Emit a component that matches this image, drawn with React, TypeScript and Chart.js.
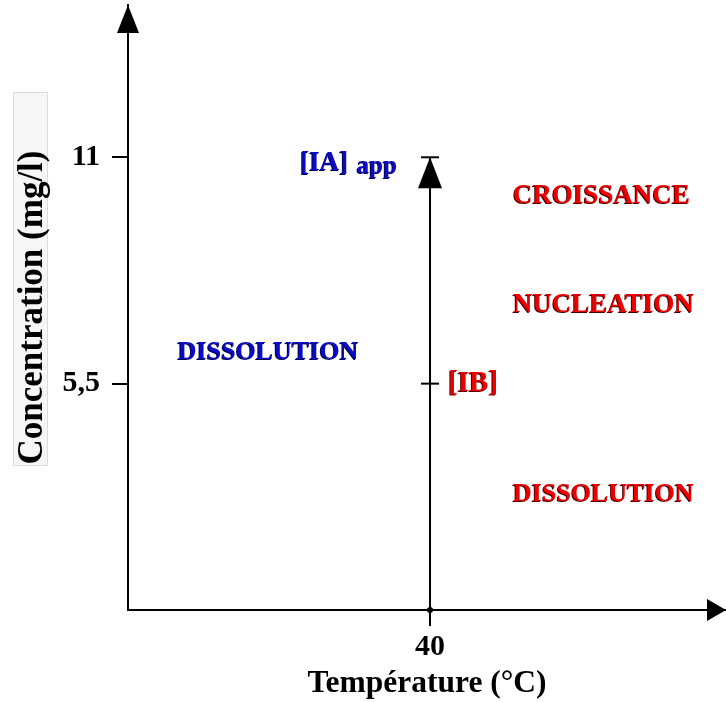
import React, { useEffect, useRef } from "react";
import { Chart, registerables } from "chart.js";

Chart.register(...registerables);

// ---- data ----
const xTickValues = [40];
const xTickLabels = ["40"];
const yTickValues = [5.5, 11];
const yTickLabels = ["5,5", "11"];
const xRange = [0, 79.2];
const yRange = [0, 14.7];
const xTitle = "Température (°C)";
const yTitle = "Concentration (mg/l)";

// vertical arrow at 40 °C from 0 up to [IA]app = 11
const arrowTemp = [40, 40];
const arrowConc = [0, 11];
// small marks on the arrow at [IA]app and [IB]
const markTemp = [40, 40];
const markConc = [11, 5.5];

// text annotations (anchor in data units: temperature, concentration)
const labelTexts = ["DISSOLUTION", "CROISSANCE", "NUCLEATION", "DISSOLUTION", "[IA]", "app", "[IB]"];
const labelTemps = [6.6, 51, 51, 51, 22.8, 30.3, 42.4];
const labelConcs = [6.27, 10.05, 7.41, 2.82, 10.85, 10.78, 5.5];

// ---- styles ----
const BLUE = "#0b0bc8";
const RED = "#ee0000";
const labelColors = [BLUE, RED, RED, RED, BLUE, BLUE, RED];
const labelShadows = ["#000050", "#500000", "#500000", "#500000", "#000050", "#000050", "#500000"];
const labelFontSizes = [26, 27, 27, 26, 27, 25, 29];
const SERIF = "'Liberation Serif', 'Times New Roman', serif";

const decorPlugin = {
  id: "decor",
  beforeDraw(chart: any) {
    const { ctx } = chart;
    ctx.save();
    ctx.fillStyle = "#f6f6f6";
    ctx.strokeStyle = "#dcdcdc";
    ctx.lineWidth = 1;
    ctx.fillRect(13, 92, 34, 373);
    ctx.strokeRect(13.5, 92.5, 34, 373);
    ctx.restore();
  },
  afterDraw(chart: any) {
    const { ctx, chartArea } = chart;
    const xs = chart.scales.x;
    const ys = chart.scales.y;
    ctx.save();
    ctx.fillStyle = "#000";
    // y-axis arrowhead
    const ax = xs.getPixelForValue(xRange[0]);
    const top = chartArea.top;
    ctx.beginPath();
    ctx.moveTo(ax, top);
    ctx.lineTo(ax - 11, top + 28);
    ctx.lineTo(ax + 11, top + 28);
    ctx.closePath();
    ctx.fill();
    // x-axis arrowhead
    const ay = ys.getPixelForValue(yRange[0]);
    const right = chartArea.right;
    ctx.beginPath();
    ctx.moveTo(right, ay);
    ctx.lineTo(right - 19, ay - 11);
    ctx.lineTo(right - 19, ay + 11);
    ctx.closePath();
    ctx.fill();
    // arrowhead of the vertical arrow
    const tx = xs.getPixelForValue(arrowTemp[1]);
    const ty = ys.getPixelForValue(arrowConc[1]);
    ctx.beginPath();
    ctx.moveTo(tx, ty);
    ctx.lineTo(tx - 12, ty + 31);
    ctx.lineTo(tx + 12, ty + 31);
    ctx.closePath();
    ctx.fill();

    // labels
    ctx.textAlign = "left";
    ctx.textBaseline = "middle";
    labelTexts.forEach((t, i) => {
      const px = xs.getPixelForValue(labelTemps[i]);
      const py = ys.getPixelForValue(labelConcs[i]);
      ctx.font = `bold ${labelFontSizes[i]}px ${SERIF}`;
      ctx.shadowColor = labelShadows[i];
      ctx.shadowOffsetX = -1;
      ctx.shadowOffsetY = 1;
      ctx.shadowBlur = 0;
      ctx.fillStyle = labelColors[i];
      ctx.fillText(t, px, py);
    });
    ctx.restore();
  },
};

export default function App() {
  const ref = useRef<HTMLCanvasElement | null>(null);

  useEffect(() => {
    if (!ref.current) return;
    const chart = new Chart(ref.current, {
      type: "line",
      data: {
        datasets: [
          {
            data: arrowTemp.map((t, i) => ({ x: t, y: arrowConc[i] })),
            borderColor: "#000",
            borderWidth: 2,
            pointRadius: [3, 0],
            pointBackgroundColor: "#000",
            pointBorderWidth: 0,
            clip: false,
          },
          {
            data: markTemp.map((t, i) => ({ x: t, y: markConc[i] })),
            showLine: false,
            pointStyle: "line",
            pointRadius: 9,
            borderColor: "#000",
            pointBorderColor: "#000",
            pointBorderWidth: 2,
            clip: false,
          },
        ],
      },
      options: {
        responsive: false,
        animation: false,
        devicePixelRatio: 1,
        layout: { autoPadding: false, padding: { top: 5, right: 0, left: 0, bottom: 0 } },
        plugins: { legend: { display: false }, tooltip: { enabled: false } },
        scales: {
          x: {
            type: "linear",
            min: xRange[0],
            max: xRange[1],
            afterBuildTicks: (s: any) => {
              s.ticks = xTickValues.map((v) => ({ value: v }));
            },
            afterFit: (s: any) => {
              s.height = 92;
              s.paddingLeft = 0;
              s.paddingRight = 0;
            },
            ticks: {
              callback: (v: any) => {
                const i = xTickValues.indexOf(Number(v));
                return i >= 0 ? xTickLabels[i] : "";
              },
              color: "#000",
              font: { family: SERIF, size: 30, weight: "bold" },
              padding: 3,
              maxRotation: 0,
              autoSkip: false,
            },
            grid: { drawOnChartArea: false, drawTicks: true, tickLength: 16, color: "#000", lineWidth: 2 },
            border: { display: true, color: "#000", width: 2 },
            title: {
              display: true,
              text: xTitle,
              color: "#000",
              font: { family: SERIF, size: 31.5, weight: "bold", lineHeight: 1 },
              padding: { top: 0, bottom: 2 },
            },
          },
          y: {
            type: "linear",
            min: yRange[0],
            max: yRange[1],
            afterBuildTicks: (s: any) => {
              s.ticks = yTickValues.map((v) => ({ value: v }));
            },
            afterFit: (s: any) => {
              s.width = 128;
              s.paddingTop = 0;
              s.paddingBottom = 0;
            },
            ticks: {
              callback: (v: any) => {
                const i = yTickValues.indexOf(Number(v));
                return i >= 0 ? yTickLabels[i] : "";
              },
              color: "#000",
              font: { family: SERIF, size: 30, weight: "bold" },
              padding: 12,
              autoSkip: false,
            },
            grid: { drawOnChartArea: false, drawTicks: true, tickLength: 16, color: "#000", lineWidth: 2 },
            border: { display: true, color: "#000", width: 2 },
            title: {
              display: true,
              text: yTitle,
              color: "#000",
              font: { family: SERIF, size: 35, weight: "bold", lineHeight: 1 },
              padding: { top: 15, bottom: 0 },
            },
          },
        },
      },
      plugins: [decorPlugin],
    } as any);
    return () => chart.destroy();
  }, []);

  return (
    <div style={{ position: "fixed", left: 0, top: 0, width: 726, height: 702, background: "#fff" }}>
      <canvas ref={ref} width={726} height={702} style={{ display: "block" }} />
    </div>
  );
}
